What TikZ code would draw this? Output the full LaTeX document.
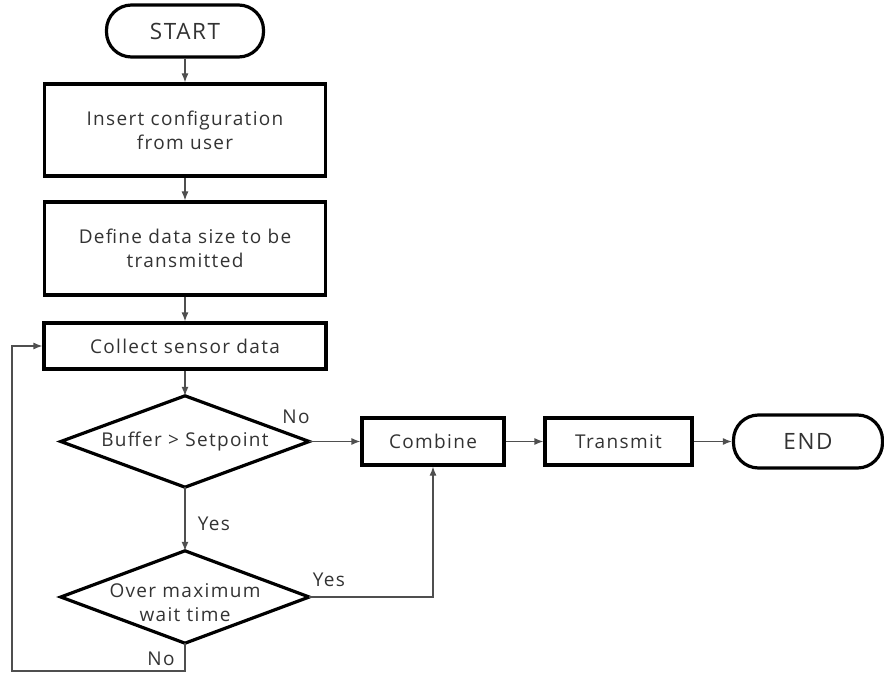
\documentclass[tikz,border=0pt]{standalone}
\usepackage{fontspec}
\setmainfont{Open Sans}[LetterSpace=7]
\usetikzlibrary{arrows.meta}
\definecolor{txt}{HTML}{333333}
\definecolor{ln}{HTML}{4F4F4F}
\begin{document}
\begin{tikzpicture}[x=1pt,y=-1pt,
  every node/.style={font=\fontsize{19}{24}\selectfont, text=txt},
  boxst/.style={draw=black, line width=3.2pt, rectangle, inner sep=0pt, align=center},
  term/.style={boxst, rounded corners=25pt},
  dec/.style={rectangle, inner sep=0pt, align=center},
  arr/.style={draw=ln, line width=1.2pt, -{Latex[length=9pt,width=7pt]}},
  lbl/.style={font=\fontsize{19}{22}\selectfont}
]
\useasboundingbox (0,0) rectangle (884,674);
\node[term, minimum width=157pt, minimum height=52pt, font=\fontsize{22.5}{26}\selectfont] (start) at (185,31) {START};
\node[boxst, minimum width=281pt, minimum height=92pt] (b1) at (185,130) {Insert configuration\\from user};
\node[boxst, minimum width=281pt, minimum height=93pt] (b2) at (185,248.5) {Define data size to be\\transmitted};
\node[boxst, minimum width=282pt, minimum height=46pt] (b3) at (185,346) {Collect sensor data};
\node[dec, minimum width=248pt, minimum height=91pt] (d1) at (185,441.5) {Buffer > Setpoint};
\node[dec, minimum width=248pt, minimum height=92pt] (d2) at (185,597) {};
\node[dec] (d2t) at (185,603) {Over maximum\\wait time};
\draw[black, line width=3.2pt, line join=miter] (d1.west) -- (d1.north) -- (d1.east) -- (d1.south) -- cycle;
\draw[black, line width=3.2pt, line join=miter] (d2.west) -- (d2.north) -- (d2.east) -- (d2.south) -- cycle;
\node[boxst, minimum width=142pt, minimum height=47pt] (comb) at (433,441.5) {Combine};
\node[boxst, minimum width=147pt, minimum height=47pt] (trans) at (618.5,441.5) {Transmit};
\node[term, minimum width=149pt, minimum height=53pt, font=\fontsize{22.5}{26}\selectfont] (end) at (808,441.5) {END};
\coordinate (lp) at (12,671);
\draw[arr] (start) -- (b1);
\draw[arr] (b1) -- (b2);
\draw[arr] (b2) -- (b3);
\draw[arr] (b3) -- (d1.north);
\draw[arr] (d1.south) -- (d2.north);
\draw[arr] (d1.east) -- (comb.west);
\draw[arr] (comb) -- (trans);
\draw[arr] (trans) -- (end);
\draw[arr] (d2.east) -| (comb.south);
\draw[arr] (d2.south) |- (lp) |- (b3.west);
\node[lbl] (no1) at (296,417) {No};
\node[lbl] (yes1) at (214,524) {Yes};
\node[lbl] (yes2) at (329,580) {Yes};
\node[lbl] (no2) at (161,659) {No};
\end{tikzpicture}
\end{document}
